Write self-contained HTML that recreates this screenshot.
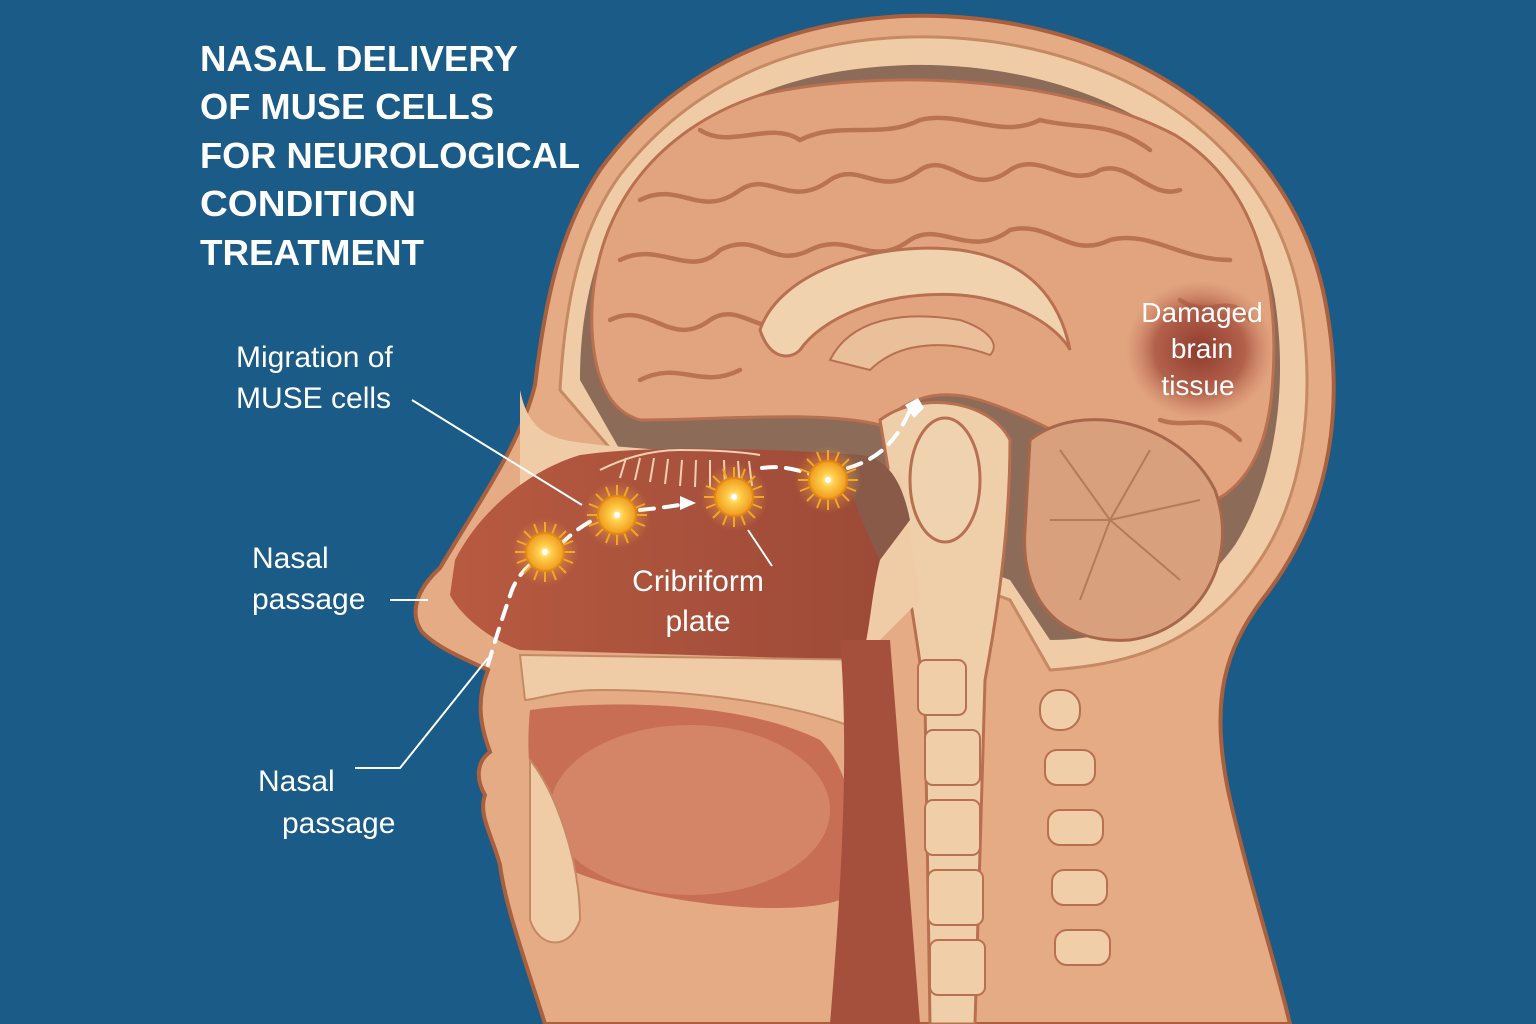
<!DOCTYPE html>
<html><head><meta charset="utf-8"><style>
html,body{margin:0;padding:0;background:#1b5b87;}
svg{display:block}
</style></head><body>
<svg width="1536" height="1024" viewBox="0 0 1536 1024" xmlns="http://www.w3.org/2000/svg">
<defs>
<radialGradient id="dmg" cx="50%" cy="50%" r="50%"><stop offset="0" stop-color="#8e3a2e"/><stop offset="0.6" stop-color="#a6503d" stop-opacity="0.8"/><stop offset="1" stop-color="#c77a5e" stop-opacity="0"/></radialGradient>
<radialGradient id="cell" cx="50%" cy="50%" r="50%"><stop offset="0" stop-color="#fff6c8"/><stop offset="0.35" stop-color="#ffcf4a"/><stop offset="1" stop-color="#f09a20"/></radialGradient>
<radialGradient id="glow" cx="50%" cy="50%" r="50%"><stop offset="0" stop-color="#ffd27a" stop-opacity="0.7"/><stop offset="1" stop-color="#ffb040" stop-opacity="0"/></radialGradient>
<linearGradient id="nasal" x1="0" y1="0" x2="1" y2="0"><stop offset="0" stop-color="#b85a40"/><stop offset="1" stop-color="#9c4a38"/></linearGradient>
</defs>
<rect width="1536" height="1024" fill="#1b5b87"/>
<path d="M545 1024 C525 960 505 905 500 865 C492 835 478 815 485 795 C476 780 476 762 490 752 C480 725 476 700 488 670 C468 660 440 650 422 632 C408 612 418 588 440 568 C480 500 520 445 535 385 C545 300 560 230 600 170 C665 80 770 22 905 16 C1110 10 1290 120 1325 300 C1348 420 1325 520 1262 600 C1225 650 1210 700 1228 790 C1248 880 1275 960 1290 1024 Z" fill="#e5ab84" stroke="#a8603f" stroke-width="4"/>
<path d="M560 390 C565 300 580 230 620 175 C690 85 790 40 910 37 C1100 33 1270 130 1300 300 C1318 410 1300 500 1260 560 C1200 650 1120 665 1050 670 L1010 600 L900 560 L620 460 Z" fill="#f0cca6" stroke="#c58a64" stroke-width="3"/>
<path d="M580 380 C580 300 600 230 640 180 C710 100 800 68 910 65 C1090 62 1250 150 1275 300 C1290 400 1270 490 1235 545 C1180 620 1110 640 1050 640 L1010 580 L900 540 L620 450 Z" fill="#8c6b58"/>
<path d="M592 330 C588 230 640 135 760 95 C880 68 1060 75 1175 135 C1265 190 1280 300 1272 390 C1267 450 1245 490 1205 505 C1120 475 1060 425 980 400 C930 385 900 405 880 425 C820 410 720 420 640 420 C605 410 594 370 592 330 Z" fill="#e2a47f" stroke="#b87050" stroke-width="3"/>
<g fill="none" stroke="#b97252" stroke-width="4.5" stroke-linecap="round">
<path d="M640 200 C680 180 700 220 740 190 C770 170 790 210 830 180 C860 160 880 200 920 170 C950 150 970 200 1010 170 C1040 150 1070 190 1100 170 C1130 160 1150 200 1180 190"/>
<path d="M620 260 C660 240 690 280 720 250 C760 230 770 270 810 250 C850 230 870 270 910 240 C940 220 970 260 1010 230 C1050 220 1070 260 1110 240 C1150 230 1180 260 1230 260"/>
<path d="M610 320 C650 300 670 350 710 320 C740 300 760 340 790 320"/>
<path d="M640 380 C680 360 700 390 740 370"/>
<path d="M700 130 C730 150 770 120 800 140 C840 120 880 140 920 120 C960 110 1000 140 1040 120 C1080 130 1110 120 1150 150"/>
<path d="M1180 300 C1210 320 1230 290 1250 320"/>
<path d="M1160 420 C1190 430 1210 410 1240 440"/>
</g>
<path d="M760 330 C780 270 880 240 960 250 C1030 260 1060 300 1070 350 C1060 330 1020 300 960 295 C880 290 820 320 800 350 C790 360 770 360 760 330 Z" fill="#f1d2ae" stroke="#b87050" stroke-width="3"/>
<path d="M830 360 C850 320 900 310 960 320 C990 330 1000 345 990 355 C950 340 900 340 870 370 Z" fill="#eac09a" stroke="#b87050" stroke-width="2"/>
<ellipse cx="1200" cy="350" rx="75" ry="70" fill="url(#dmg)"/>
<path d="M1030 440 C1080 400 1180 420 1215 490 C1240 560 1200 630 1130 640 C1060 645 1020 600 1025 530 Z" fill="#d9a07d" stroke="#a8674a" stroke-width="3"/>
<g fill="none" stroke="#b57a5a" stroke-width="2"><path d="M1110 520 L1060 450 M1110 520 L1150 450 M1110 520 L1200 500 M1110 520 L1050 520 M1110 520 L1180 580 M1110 520 L1080 600"/></g>
<path d="M880 420 C920 390 990 400 1010 440 C1010 520 1000 600 985 680 L975 1024 L930 1024 L925 700 C915 620 900 540 880 420 Z" fill="#efcfa9" stroke="#b87050" stroke-width="3"/>
<ellipse cx="945" cy="480" rx="35" ry="62" fill="#efd3b0" stroke="#b87050" stroke-width="3"/>
<path d="M520 390 C530 440 560 440 600 445 L900 470 L920 600 L880 640 L520 640 Z" fill="#f0cca6"/>
<path d="M455 560 C480 510 530 470 580 455 C650 445 760 448 860 455 C880 480 890 520 880 560 C870 600 870 640 860 660 L520 650 C490 640 460 615 450 595 Z" fill="url(#nasal)"/>
<path d="M840 455 C880 450 900 470 910 520 L880 560 C860 520 850 490 840 455 Z" fill="#8a5a48"/>
<g stroke="#f0d0b0" stroke-width="2" fill="none">
<path d="M600 470 Q640 450 680 450 Q730 450 760 455"/>
<path d="M620 478 l6 -20 M635 480 l5 -22 M650 482 l4 -24 M665 484 l3 -25 M680 486 l2 -26 M695 487 l1 -27 M710 488 l0 -28 M725 488 l-1 -28 M740 488 l-2 -27 M752 486 l-3 -25"/>
</g>
<path d="M520 655 L880 660 C890 690 880 720 860 730 C800 705 700 690 600 690 C560 690 535 700 525 700 Z" fill="#f0cca6" stroke="#c58a64" stroke-width="2"/>
<path d="M530 710 C600 700 740 700 820 740 C860 780 860 860 840 900 C780 920 640 900 570 870 C530 830 525 760 530 710 Z" fill="#c86e55"/>
<ellipse cx="690" cy="810" rx="140" ry="85" fill="#d48568"/>
<path d="M840 640 L890 640 L920 1024 L830 1024 C840 900 850 760 840 640 Z" fill="#a4503c"/>
<path d="M530 760 C555 790 580 860 580 920 C570 950 540 950 530 920 Z" fill="#f0cca6" stroke="#c58a64" stroke-width="2"/>
<g fill="#f0cfa8" stroke="#b87050" stroke-width="2">
<rect x="918" y="660" width="48" height="55" rx="8"/>
<rect x="925" y="730" width="55" height="55" rx="8"/>
<rect x="925" y="800" width="55" height="55" rx="8"/>
<rect x="928" y="870" width="55" height="55" rx="8"/>
<rect x="930" y="940" width="55" height="55" rx="8"/>
<rect x="1045" y="750" width="50" height="35" rx="12"/>
<rect x="1048" y="810" width="55" height="35" rx="12"/>
<rect x="1052" y="870" width="55" height="35" rx="12"/>
<rect x="1055" y="930" width="55" height="35" rx="12"/>
<rect x="1040" y="690" width="40" height="40" rx="18"/>
</g>
<g fill="none" stroke="#fff" stroke-width="4" stroke-dasharray="14 10" stroke-linecap="round">
<path d="M488 665 C495 640 505 610 512 590 C520 570 535 560 548 552"/>
<path d="M560 545 C575 530 590 520 605 515"/>
<path d="M640 510 C660 508 675 506 690 503"/>
<path d="M762 468 C780 465 800 470 812 475"/>
<path d="M848 468 C875 460 895 445 910 410"/>
</g>
<path d="M680 496 L696 503 L680 510 Z" fill="#fff"/>
<path d="M905 405 L918 398 L924 408 L914 418 Z" fill="#fff"/>
<g>
<g transform="translate(545,552)"><circle r="34" fill="url(#glow)"/><g stroke="#f5a623" stroke-width="2"><path d="M0 -30 V30 M-30 0 H30 M-21 -21 L21 21 M-21 21 L21 -21 M-11 -28 L11 28 M11 -28 L-11 28 M-28 -11 L28 11 M-28 11 L28 -11"/></g><circle r="19" fill="url(#cell)" stroke="#e08a10" stroke-width="2"/><circle r="3" fill="#fff"/></g>
<g transform="translate(617,515)"><circle r="34" fill="url(#glow)"/><g stroke="#f5a623" stroke-width="2"><path d="M0 -30 V30 M-30 0 H30 M-21 -21 L21 21 M-21 21 L21 -21 M-11 -28 L11 28 M11 -28 L-11 28 M-28 -11 L28 11 M-28 11 L28 -11"/></g><circle r="19" fill="url(#cell)" stroke="#e08a10" stroke-width="2"/><circle r="3" fill="#fff"/></g>
<g transform="translate(734,497)"><circle r="34" fill="url(#glow)"/><g stroke="#f5a623" stroke-width="2"><path d="M0 -30 V30 M-30 0 H30 M-21 -21 L21 21 M-21 21 L21 -21 M-11 -28 L11 28 M11 -28 L-11 28 M-28 -11 L28 11 M-28 11 L28 -11"/></g><circle r="19" fill="url(#cell)" stroke="#e08a10" stroke-width="2"/><circle r="3" fill="#fff"/></g>
<g transform="translate(828,480)"><circle r="34" fill="url(#glow)"/><g stroke="#f5a623" stroke-width="2"><path d="M0 -30 V30 M-30 0 H30 M-21 -21 L21 21 M-21 21 L21 -21 M-11 -28 L11 28 M11 -28 L-11 28 M-28 -11 L28 11 M-28 11 L28 -11"/></g><circle r="19" fill="url(#cell)" stroke="#e08a10" stroke-width="2"/><circle r="3" fill="#fff"/></g>
</g>
<g stroke="#fff" stroke-width="2" fill="none">
<path d="M412 400 L582 505"/>
<path d="M390 600 L428 600"/>
<path d="M355 768 L400 768 L488 658"/>
<path d="M748 530 L772 566"/>
</g>
<g font-family="'Liberation Sans', sans-serif" fill="#fff">
<g font-weight="bold" font-size="36">
<text x="200" y="71" textLength="318" lengthAdjust="spacingAndGlyphs">NASAL DELIVERY</text>
<text x="200" y="119" textLength="294" lengthAdjust="spacingAndGlyphs">OF MUSE CELLS</text>
<text x="200" y="168" textLength="380" lengthAdjust="spacingAndGlyphs">FOR NEUROLOGICAL</text>
<text x="200" y="216" textLength="216" lengthAdjust="spacingAndGlyphs">CONDITION</text>
<text x="200" y="265" textLength="224" lengthAdjust="spacingAndGlyphs">TREATMENT</text>
</g>
<g font-size="30">
<text x="236" y="367">Migration of</text>
<text x="236" y="408">MUSE cells</text>
<text x="252" y="568">Nasal</text>
<text x="252" y="609">passage</text>
<text x="258" y="791">Nasal</text>
<text x="282" y="833">passage</text>
<text x="698" y="591" text-anchor="middle">Cribriform</text>
<text x="698" y="631" text-anchor="middle">plate</text>
</g>
<g font-size="28" text-anchor="middle">
<text x="1202" y="322">Damaged</text>
<text x="1202" y="358">brain</text>
<text x="1198" y="395">tissue</text>
</g>
</g>
</svg>
</body></html>
